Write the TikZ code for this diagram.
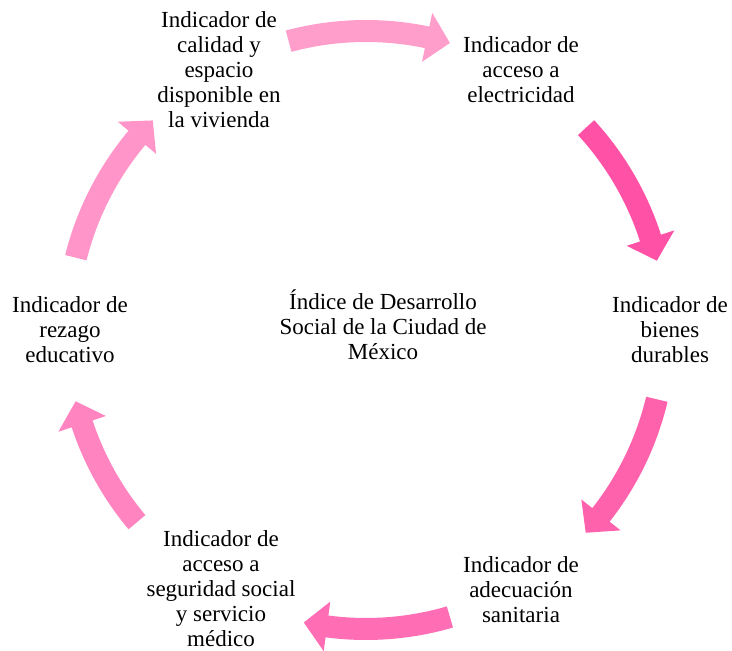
\documentclass[tikz,border=0pt]{standalone}
\usepackage{fontspec}
\setmainfont{Liberation Serif}
\usepackage{xcolor}

\definecolor{pinkA}{HTML}{FF9ECB}
\definecolor{pinkB}{HTML}{FF52A6}
\definecolor{pinkC}{HTML}{FF62AD}
\definecolor{pinkD}{HTML}{FF6DB4}
\definecolor{pinkE}{HTML}{FF84C0}
\definecolor{pinkF}{HTML}{FF95C8}

% #1 colour, #2 tail angle, #3 tip angle (clockwise)
\newcommand{\cyclearrow}[3]{%
  \fill[#1] (#2:288) arc[start angle=#2, end angle={#3+4.5}, radius=288]
    -- ({#3+4.5}:274) -- (#3:299) -- ({#3+4.5}:324) -- ({#3+4.5}:310)
    arc[start angle={#3+4.5}, end angle=#2, radius=310] -- cycle;%
}

\begin{document}
\begin{tikzpicture}[x=1pt, y=1pt, every node/.style={font=\fontsize{23}{25}\selectfont, align=center}]
	\useasboundingbox (-366,-321) rectangle (366,330);
	\node (calidad) at (-147,260) {Indicador de\\calidad y\\espacio\\disponible en\\la vivienda};
	\node (electricidad) at (155,260) {Indicador de\\acceso a\\electricidad};
	\node (bienes) at (304,0) {Indicador de\\bienes\\durables};
	\node (sanitaria) at (155,-260) {Indicador de\\adecuación\\sanitaria};
	\node (seguridad) at (-145,-259) {Indicador de\\acceso a\\seguridad social\\y servicio\\médico};
	\node (rezago) at (-296,0) {Indicador de\\rezago\\educativo};
	\node (indice) at (17,5) {Índice de Desarrollo\\Social de la Ciudad de\\México};
	\cyclearrow{pinkA}{105}{73.7}
	\cyclearrow{pinkB}{42.6}{13.4}
	\cyclearrow{pinkC}{-13.4}{-42.7}
	\cyclearrow{pinkD}{-73.7}{-102}
	\cyclearrow{pinkE}{220}{193.8}
	\cyclearrow{pinkF}{166}{135.5}
\end{tikzpicture}
\end{document}
